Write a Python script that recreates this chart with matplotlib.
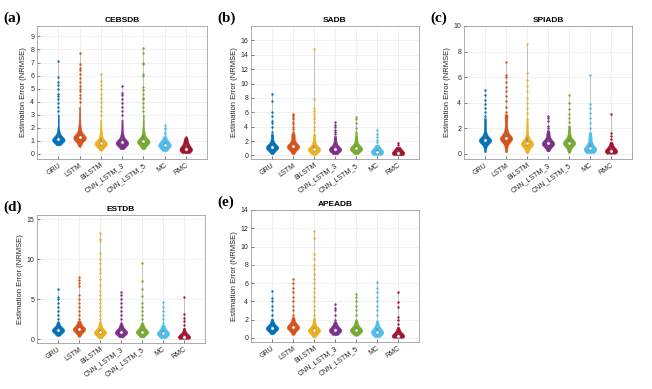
import numpy as np
import matplotlib
matplotlib.use("Agg")
import matplotlib.pyplot as plt

# models and MATLAB default colours
models = ["GRU", "LSTM", "BiLSTM", "CNN_LSTM_3", "CNN_LSTM_5", "MC", "RMC"]
colors = ["#0072BD", "#D95319", "#EDB120", "#7E2F8E", "#77AC30", "#4DBEEE", "#A2142F"]

# (a) CEBSDB: dense body values and sparse tail points per model
cebsdb_body = [
    [0.65, 0.8, 0.9, 0.95, 1.0, 1.02, 1.05, 1.08, 1.1, 1.12, 1.15, 1.2, 1.25, 1.35, 1.5, 1.7, 2.0, 2.5, 3.0],
    [0.55, 0.8, 0.95, 1.05, 1.1, 1.15, 1.2, 1.22, 1.25, 1.3, 1.35, 1.4, 1.5, 1.65, 1.85, 2.1, 2.5, 3.0, 3.6],
    [0.25, 0.5, 0.6, 0.65, 0.7, 0.72, 0.75, 0.78, 0.8, 0.85, 0.9, 0.95, 1.05, 1.2, 1.4, 1.7, 2.1, 2.6],
    [0.35, 0.55, 0.65, 0.7, 0.75, 0.78, 0.8, 0.83, 0.86, 0.9, 0.95, 1.0, 1.1, 1.25, 1.45, 1.7, 2.1, 2.6],
    [0.35, 0.55, 0.7, 0.78, 0.82, 0.86, 0.9, 0.93, 0.96, 1.0, 1.05, 1.1, 1.2, 1.35, 1.6, 1.9, 2.4, 3.0],
    [0.2, 0.35, 0.45, 0.52, 0.58, 0.62, 0.65, 0.68, 0.72, 0.76, 0.82, 0.9, 1.0, 1.15, 1.35],
    [0.05, 0.12, 0.18, 0.22, 0.26, 0.3, 0.33, 0.36, 0.4, 0.45, 0.5, 0.58, 0.68, 0.8, 0.95, 1.1, 1.25],
]
cebsdb_tail = [
    [3.3, 3.6, 3.9, 4.2, 4.4, 4.6, 5.0, 5.3, 5.5, 5.9, 7.1],
    [4.0, 4.3, 4.5, 4.8, 5.0, 5.2, 5.5, 5.8, 6.1, 6.4, 6.6, 6.9, 7.7],
    [3.0, 3.3, 3.6, 4.0, 4.3, 4.6, 5.0, 5.3, 5.6, 6.1],
    [3.0, 3.3, 3.6, 3.9, 4.2, 4.5, 4.7, 5.2],
    [3.3, 3.6, 3.9, 4.2, 4.3, 4.6, 4.9, 5.1, 6.0, 6.1, 6.9, 7.0, 7.7, 8.1],
    [1.5, 1.7, 1.9, 2.0, 2.2],
    [1.3],
]

# (b) SADB
sadb_body = [
    [0.2, 0.6, 0.85, 0.95, 1.0, 1.05, 1.1, 1.13, 1.17, 1.22, 1.3, 1.45, 1.7, 2.1, 2.6, 3.0],
    [0.2, 0.6, 0.9, 1.05, 1.1, 1.15, 1.2, 1.25, 1.3, 1.38, 1.5, 1.7, 2.0, 2.4, 2.8, 3.1],
    [0.1, 0.4, 0.6, 0.7, 0.75, 0.8, 0.85, 0.9, 0.97, 1.05, 1.2, 1.5, 1.9, 2.5, 3.0],
    [0.15, 0.45, 0.65, 0.72, 0.77, 0.8, 0.84, 0.88, 0.93, 1.0, 1.15, 1.4, 1.8, 2.3, 2.7],
    [0.15, 0.5, 0.7, 0.8, 0.85, 0.9, 0.94, 0.98, 1.03, 1.1, 1.25, 1.5, 1.9, 2.4, 2.8],
    [0.05, 0.15, 0.25, 0.33, 0.4, 0.46, 0.5, 0.55, 0.62, 0.7, 0.82, 1.0, 1.25, 1.5],
    [0.02, 0.1, 0.16, 0.2, 0.25, 0.28, 0.32, 0.36, 0.42, 0.5, 0.62, 0.8, 1.0, 1.2],
]
sadb_tail = [
    [3.3, 4.0, 4.5, 4.8, 5.5, 6.1, 7.6, 8.6],
    [3.3, 3.7, 4.0, 4.3, 4.7, 5.0, 5.3, 5.6, 5.8],
    [3.5, 4.0, 4.6, 5.0, 5.3, 5.8, 6.2, 6.6, 7.8, 14.8],
    [3.0, 3.3, 3.6, 3.9, 4.2, 4.6],
    [3.0, 3.3, 3.8, 4.5, 5.0, 5.4],
    [1.8, 2.2, 2.6, 3.0, 3.5],
    [1.4, 1.7],
]

# (c) SPIADB
spiadb_body = [
    [0.15, 0.55, 0.8, 0.92, 0.98, 1.02, 1.05, 1.08, 1.12, 1.17, 1.25, 1.4, 1.65, 2.0, 2.4, 2.8],
    [0.15, 0.55, 0.85, 1.0, 1.08, 1.14, 1.2, 1.25, 1.3, 1.38, 1.5, 1.7, 2.0, 2.4, 2.8, 3.1],
    [0.1, 0.35, 0.55, 0.65, 0.72, 0.77, 0.8, 0.84, 0.9, 0.98, 1.1, 1.35, 1.7, 2.2, 2.8],
    [0.2, 0.45, 0.6, 0.68, 0.74, 0.78, 0.8, 0.84, 0.88, 0.94, 1.02, 1.15, 1.35, 1.6, 1.85],
    [0.1, 0.4, 0.6, 0.7, 0.77, 0.82, 0.85, 0.88, 0.93, 1.0, 1.1, 1.25, 1.5, 1.85, 2.2],
    [0.05, 0.12, 0.2, 0.26, 0.32, 0.37, 0.4, 0.45, 0.52, 0.6, 0.72, 0.9, 1.15, 1.4, 1.7],
    [0.02, 0.08, 0.12, 0.15, 0.18, 0.2, 0.22, 0.25, 0.3, 0.36, 0.45, 0.58, 0.75, 0.95],
]
spiadb_tail = [
    [3.0, 3.3, 3.6, 3.9, 4.2, 4.6, 5.0],
    [3.3, 3.7, 4.1, 4.5, 4.9, 5.2, 5.6, 6.0, 6.2, 7.2],
    [3.2, 3.6, 4.0, 4.4, 4.9, 5.3, 5.8, 6.3, 8.6],
    [2.0, 2.2, 2.6, 2.8, 3.0],
    [2.5, 2.8, 3.1, 3.5, 4.0, 4.6],
    [2.0, 2.4, 2.8, 3.2, 3.6, 3.9, 6.2],
    [1.2, 1.4, 1.6, 3.1],
]

# (d) ESTDB
estdb_body = [
    [0.4, 0.7, 0.88, 0.97, 1.03, 1.07, 1.1, 1.13, 1.17, 1.23, 1.32, 1.5, 1.8, 2.2],
    [0.3, 0.7, 0.95, 1.07, 1.13, 1.18, 1.2, 1.25, 1.3, 1.38, 1.5, 1.7, 2.0, 2.3],
    [0.1, 0.4, 0.6, 0.7, 0.75, 0.8, 0.83, 0.87, 0.93, 1.0, 1.15, 1.4, 1.8, 2.2],
    [0.2, 0.5, 0.65, 0.72, 0.77, 0.8, 0.83, 0.87, 0.92, 1.0, 1.12, 1.3, 1.6, 1.9],
    [0.2, 0.5, 0.68, 0.76, 0.81, 0.85, 0.88, 0.92, 0.97, 1.05, 1.18, 1.4, 1.7, 2.0],
    [0.1, 0.3, 0.45, 0.55, 0.62, 0.67, 0.7, 0.74, 0.8, 0.88, 1.0, 1.2, 1.5, 1.8],
    [0.02, 0.08, 0.13, 0.17, 0.2, 0.23, 0.25, 0.28, 0.33, 0.4, 0.5, 0.7, 1.0, 1.4],
]
estdb_tail = [
    [2.5, 3.0, 3.5, 4.0, 4.5, 5.0, 5.3, 6.2],
    [2.5, 3.0, 3.5, 4.0, 4.5, 5.0, 5.5, 6.6, 7.0, 7.4, 7.7],
    [2.5, 3.0, 3.5, 4.0, 4.5, 5.0, 5.5, 6.0, 6.8, 7.5, 8.2, 8.8, 9.5, 10.0, 10.8, 12.2, 12.5, 13.2],
    [2.0, 2.5, 3.0, 3.5, 4.0, 4.5, 5.0, 5.5, 5.9],
    [2.0, 2.5, 3.0, 3.5, 4.0, 4.5, 5.4, 6.2, 7.3, 9.5],
    [2.0, 2.5, 3.0, 3.5, 4.0, 4.6],
    [1.8, 2.2, 2.6, 3.1, 5.2],
]

# (e) APEADB
apeadb_body = [
    [0.4, 0.7, 0.87, 0.95, 1.0, 1.03, 1.05, 1.08, 1.12, 1.18, 1.27, 1.45, 1.75, 2.1],
    [0.35, 0.7, 0.92, 1.03, 1.1, 1.13, 1.15, 1.2, 1.25, 1.33, 1.45, 1.65, 1.95, 2.3],
    [0.1, 0.4, 0.6, 0.7, 0.75, 0.8, 0.83, 0.87, 0.93, 1.0, 1.15, 1.4, 1.8, 2.2],
    [0.3, 0.5, 0.65, 0.72, 0.77, 0.8, 0.83, 0.87, 0.92, 1.0, 1.1, 1.25, 1.5, 1.8],
    [0.25, 0.5, 0.65, 0.73, 0.78, 0.8, 0.84, 0.88, 0.93, 1.0, 1.12, 1.3, 1.6, 1.9],
    [0.1, 0.25, 0.4, 0.5, 0.57, 0.62, 0.65, 0.7, 0.77, 0.86, 1.0, 1.2, 1.5, 1.9],
    [0.02, 0.08, 0.12, 0.15, 0.18, 0.2, 0.22, 0.25, 0.3, 0.37, 0.47, 0.65, 0.9, 1.2],
]
apeadb_tail = [
    [2.5, 3.0, 3.5, 4.0, 4.4, 5.1],
    [2.5, 3.0, 3.5, 4.0, 4.5, 5.0, 5.5, 6.0, 6.4],
    [2.5, 3.0, 3.5, 4.0, 4.5, 5.0, 5.5, 6.0, 6.5, 7.0, 7.5, 8.0, 8.6, 9.2, 10.9, 11.7],
    [2.0, 2.5, 3.0, 3.3, 3.7],
    [2.0, 2.5, 3.0, 3.5, 4.0, 4.5, 4.8],
    [2.5, 3.0, 3.5, 4.0, 4.5, 5.0, 5.5, 6.1],
    [1.5, 2.0, 2.3, 3.4, 3.9, 5.0],
]

panels = [
    ("(a)", "CEBSDB", cebsdb_body, cebsdb_tail, (-0.4, 9.8), np.arange(0, 10, 1)),
    ("(b)", "SADB", sadb_body, sadb_tail, (-0.5, 18), np.arange(0, 17, 2)),
    ("(c)", "SPIADB", spiadb_body, spiadb_tail, (-0.4, 10), np.arange(0, 11, 2)),
    ("(d)", "ESTDB", estdb_body, estdb_tail, (-0.5, 15.5), np.arange(0, 16, 5)),
    ("(e)", "APEADB", apeadb_body, apeadb_tail, (-0.45, 14), np.arange(0, 15, 2)),
]

# axes boxes in figure pixels (left, top, width, height)
boxes = [(37, 26, 170, 133), (251, 26, 168, 133), (464, 26, 168, 133),
         (37, 215, 168, 128), (251, 210, 168, 132)]

W, H = 652, 389
fig = plt.figure(figsize=(W / 100, H / 100), dpi=100)
plt.rcParams["font.family"] = ["Liberation Sans", "DejaVu Sans"]


def kde(vals, weights, grid, bw):
    vals = np.asarray(vals)
    d = (np.exp(-0.5 * ((grid[:, None] - vals[None, :]) / bw) ** 2) * weights).sum(axis=1)
    return d / d.max()


for (lab, title, body, tail, ylim, yt), (l, t, w, h) in zip(panels, boxes):
    ax = fig.add_axes([l / W, 1 - (t + h) / H, w / W, h / H])
    bw = 0.02 * (ylim[1] - ylim[0])
    for i, (b, tl) in enumerate(zip(body, tail)):
        x = i + 1
        c = colors[i]
        allv = np.concatenate([b, tl])
        wts = np.concatenate([np.ones(len(b)), np.full(len(tl), 0.06)])
        ax.plot([x, x], [allv.min(), allv.max()], color="0.72", lw=0.6, zorder=1)
        grid = np.linspace(min(b), max(b), 300)
        dens = kde(allv, wts, grid, bw) * 0.3
        ax.fill_betweenx(grid, x - dens, x + dens, color=c, lw=0.3, zorder=2)
        ax.scatter(np.full(len(tl), x), tl, s=3, color=c, lw=0, zorder=3)
        q1, med, q3 = np.percentile(b, [25, 50, 75])
        ax.plot([x, x], [q1, q3], color="0.45", lw=1.2, alpha=0.5, zorder=4)
        ax.scatter([x], [med], s=5, color="white", edgecolor="0.5", lw=0.3, zorder=5)

    ax.set_xlim(0, 8)
    ax.set_ylim(*ylim)
    ax.set_yticks(yt)
    ax.set_xticks(range(1, 8))
    ax.set_xticklabels(models, rotation=35, ha="right", rotation_mode="anchor")
    ax.tick_params(labelsize=5, colors="0.15", length=2, width=0.4, direction="in", pad=2)
    ax.grid(True, color="0.9", lw=0.4)
    ax.set_axisbelow(True)
    for s in ax.spines.values():
        s.set_color("0.55")
        s.set_linewidth(0.5)
    ax.set_ylabel("Estimation Error (NRMSE)", fontsize=5.5, color="0.15", labelpad=2)
    ax.set_title(title, fontsize=6, fontweight="bold", pad=3)
    fig.text((l - 34) / W, 1 - (t - 8) / H, lab, fontsize=11, fontweight="bold",
             family="Liberation Serif", va="center")

fig.savefig("out.png", dpi=100, facecolor="white")
